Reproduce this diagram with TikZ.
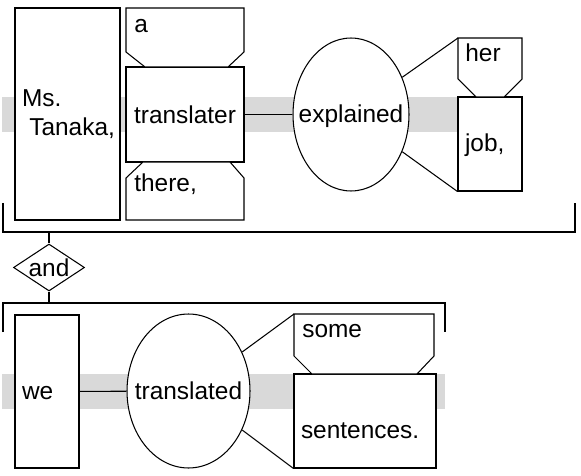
\documentclass[tikz,border=0pt]{standalone}
\usepackage{fontspec}
\setmainfont{Liberation Sans}
\usetikzlibrary{shapes.geometric}
\definecolor{bandgray}{RGB}{217,217,217}
\tikzset{
    word/.style={rectangle,draw,fill=white,line width=0.6pt,inner xsep=0.14cm,inner ysep=0pt,align=left},
    verb/.style={ellipse,draw,fill=white,line width=0.6pt,inner ysep=0pt,inner xsep=-0.6cm},
    conj/.style={diamond,draw,fill=white,line width=0.6pt,inner sep=0pt,aspect=1.5,minimum width=1.42cm,minimum height=0.94cm},
    modbox/.style={draw,fill=white,line width=0.6pt},
    modtext/.style={inner sep=0pt,anchor=base west},
    link/.style={line width=0.6pt},
    bar/.style={line width=0.6pt},
    drop/.style={text height=#1,text depth=0pt},
}

\begin{document}
\begin{tikzpicture}[x=0.02cm,y=-0.02cm,every node/.style={font=\fontsize{13.9}{16.4}\selectfont}]
\useasboundingbox (0,0) rectangle (581,476);
% grey bands behind the two clauses
\fill[bandgray] (2,97) rectangle (457,132);
\fill[bandgray] (2,374) rectangle (445,409);

% first clause
\node[word,minimum width=2.1cm,minimum height=4.24cm,text width=1.82cm] (tanaka) at (67.5,114) {Ms.\\\hspace*{0.3em}Tanaka,};
\node[word,minimum width=2.36cm,minimum height=1.9cm,align=center,drop=0.38cm] (translater) at (185,114.5) {translater};
\node[verb,minimum width=2.32cm,minimum height=3.06cm,drop=0.34cm] (explained) at (351,114.5) {explained};
\node[word,minimum width=1.28cm,minimum height=1.88cm,text width=1.0cm,drop=0.32cm] (job) at (490,144) {job,};

\coordinate (a nw) at (126,8);
\draw[modbox] (a nw) -- ++(118,0) -- ++(0,44) -- ++(-16,15) -- ++(-83,0) -- ++(-19,-15) -- cycle;
\node[modtext] (a) at (134,33) {a};
\coordinate (there sw) at (126,220);
\draw[modbox] (there sw) -- ++(0,-42) -- ++(17,-16) -- ++(87,0) -- ++(14,16) -- ++(0,42) -- cycle;
\node[modtext] (there) at (134,192) {there,};
\coordinate (her nw) at (458,38);
\draw[modbox] (her nw) -- ++(64,0) -- ++(0,41) -- ++(-18,18) -- ++(-28,0) -- ++(-18,-18) -- cycle;
\node[modtext] (her) at (465,62) {her};

\draw[link] (translater) -- (explained);
\draw[link] (explained.36) -- (her nw);
\draw[link] (explained.-36) -- (job.south west);

% joining bars
\coordinate (top bar) at (49,232);
\coordinate (low bar) at (49,303);
\draw[bar] (3,203) |- (575,232) -- (575,203);
\node[conj] (and) at (49,267.5) {and};
\draw[link] (top bar) -- (and.north);
\draw[link] (and.south) -- (low bar);
\draw[bar] (3,332) |- (445,303) -- (445,332);

% second clause
\node[word,minimum width=1.28cm,minimum height=3.06cm,text width=1.0cm,drop=0.3cm] (we) at (47,391.5) {we};
\node[verb,minimum width=2.46cm,minimum height=3.08cm,drop=0.32cm] (translated) at (188.5,391) {translated};
\node[word,minimum width=2.84cm,minimum height=1.88cm,text width=2.56cm,drop=0.72cm] (sentences) at (365,421) {sentences.};
\coordinate (some nw) at (294,314);
\draw[modbox] (some nw) -- ++(140,0) -- ++(0,42) -- ++(-17,18) -- ++(-105,0) -- ++(-18,-18) -- cycle;
\node[modtext] (some) at (302,337) {some};

\draw[link] (we) -- (translated);
\draw[link] (translated.36) -- (some nw);
\draw[link] (translated.-36) -- (sentences.south west);
\end{tikzpicture}
\end{document}
